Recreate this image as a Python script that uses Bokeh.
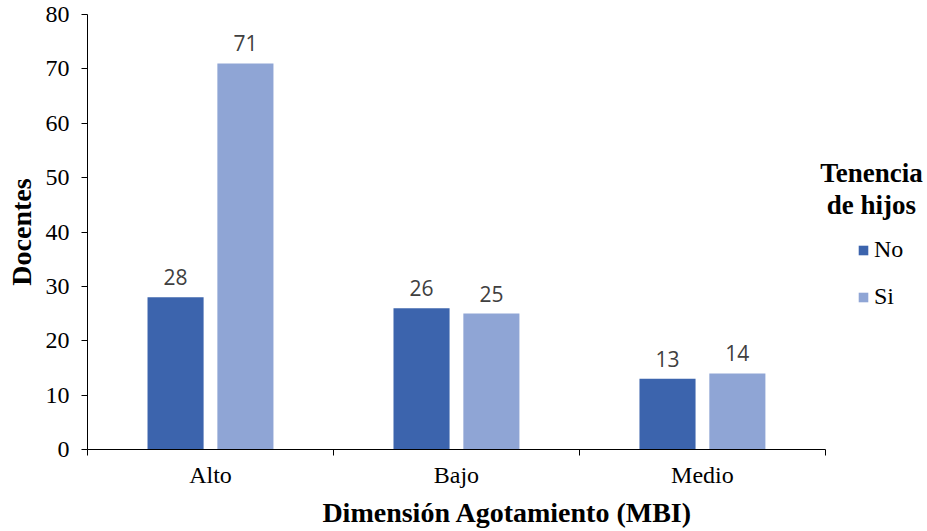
from bokeh.plotting import figure
from bokeh.models import (ColumnDataSource, FixedTicker, Legend, LegendItem, Label, Range1d)
from bokeh.core.properties import value
from bokeh.embed import file_html
from bokeh.resources import INLINE

categories = ["Alto", "Bajo", "Medio"]
series_names = ["No", "Si"]
no_values = [28, 26, 13]
si_values = [71, 25, 14]
y_ticks = [0, 10, 20, 30, 40, 50, 60, 70, 80]
colors = ["#3C64AD", "#8FA5D5"]

W, H = 927, 531
n = len(categories)
p = figure(width=W, height=H, output_backend="svg", toolbar_location=None,
           x_range=Range1d(0, 3.415), y_range=Range1d(0, 80),
           min_border_left=87, min_border_right=0, min_border_top=14, min_border_bottom=82)
p.outline_line_color = None
p.xgrid.visible = False
p.ygrid.visible = False
p.background_fill_color = "white"

centers = [i + 0.5 for i in range(n)]
offset = 0.142
bw = 0.228
src_no = ColumnDataSource(dict(x=[c - offset for c in centers], top=no_values,
                               lab=[str(v) for v in no_values]))
src_si = ColumnDataSource(dict(x=[c + offset for c in centers], top=si_values,
                               lab=[str(v) for v in si_values]))
r_no = p.vbar(x="x", top="top", width=bw, source=src_no, fill_color=colors[0], line_color=None)
r_si = p.vbar(x="x", top="top", width=bw, source=src_si, fill_color=colors[1], line_color=None)

for src in (src_no, src_si):
    p.text(x="x", y="top", text="lab", source=src, text_align="center", text_baseline="bottom",
           y_offset=-12, text_font=value("Open Sans"), text_font_size="21px", text_color="#404040")

# x axis: labels at category centres, ticks at category boundaries
xa = p.xaxis[0]
xa.bounds = (0, n)
xa.ticker = FixedTicker(ticks=centers, minor_ticks=list(range(n + 1)))
xa.major_label_overrides = {c: cat for c, cat in zip(centers, categories)}
xa.major_tick_out = 0
xa.major_tick_in = 0
xa.minor_tick_out = 6
xa.minor_tick_in = 0
xa.minor_tick_line_color = "black"
xa.major_label_standoff = 6
xa.major_label_text_font = "Liberation Serif"
xa.major_label_text_font_size = "24px"
xa.major_label_text_color = "black"
xa.axis_line_color = "black"
xa.axis_label = "Dimensión Agotamiento (MBI)"
xa.axis_label_text_font = "Liberation Serif"
xa.axis_label_text_font_style = "bold"
xa.axis_label_text_font_size = "28px"
xa.axis_label_text_color = "black"
xa.axis_label_standoff = 6

ya = p.yaxis[0]
ya.ticker = FixedTicker(ticks=y_ticks, minor_ticks=[])
ya.major_tick_out = 6
ya.major_tick_in = 0
ya.major_tick_line_color = "black"
ya.axis_line_color = "black"
ya.major_label_standoff = 12
ya.major_label_text_font = "Liberation Serif"
ya.major_label_text_font_size = "24px"
ya.major_label_text_color = "black"
ya.axis_label = "Docentes"
ya.axis_label_text_font = "Liberation Serif"
ya.axis_label_text_font_style = "bold"
ya.axis_label_text_font_size = "28px"
ya.axis_label_text_color = "black"
ya.axis_label_standoff = 6

legend = Legend(items=[LegendItem(label=series_names[0], renderers=[r_no]),
                       LegendItem(label=series_names[1], renderers=[r_si])],
                location=(770, 139), padding=0, margin=0, border_line_color=None,
                background_fill_alpha=0, glyph_width=12, glyph_height=12, label_height=24,
                spacing=20, label_standoff=5, label_text_font="Liberation Serif",
                label_text_font_size="24px", label_text_color="black")
p.add_layout(legend, "center")

for txt, yy in (("Tenencia", 50.9), ("de hijos", 45.0)):
    p.add_layout(Label(x=3.187, y=yy, text=txt,
                       text_align="center", text_baseline="middle", text_font="Liberation Serif",
                       text_font_style="bold", text_font_size="27px", text_color="black"))

open("out.html", "w").write(file_html(p, INLINE))
